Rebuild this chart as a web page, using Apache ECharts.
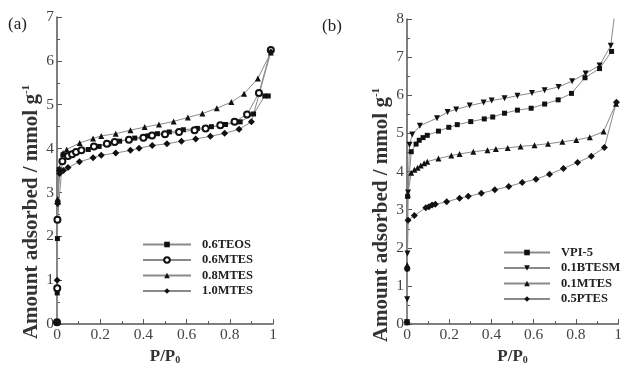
<!DOCTYPE html>
<html>
<head>
<meta charset="utf-8">
<script src="https://cdn.jsdelivr.net/npm/echarts@6/dist/echarts.min.js"></script>
<style>
  html, body { margin: 0; padding: 0; background: #fff; }
  #chart { width: 625px; height: 370px; }
</style>
</head>
<body>
<div id="chart"></div>
<script>
// panel (a): [P/P0, mmol/g]
const teos06 = [[0, 0.04], [0.001, 0.71], [0.002, 1.95], [0.004, 2.78], [0.01, 3.52], [0.028, 3.86],
  [0.145, 3.98], [0.195, 4.05], [0.24, 4.11], [0.29, 4.17], [0.36, 4.24], [0.42, 4.29], [0.465, 4.34],
  [0.52, 4.38], [0.585, 4.43], [0.65, 4.46], [0.715, 4.5], [0.78, 4.55], [0.848, 4.61], [0.91, 4.79],
  [0.962, 5.2], [0.978, 5.2]]
const mtes06 = [[0, 0.04], [0.001, 0.82], [0.002, 2.38], [0.025, 3.71], [0.051, 3.83], [0.07, 3.87],
  [0.088, 3.92], [0.113, 3.96], [0.171, 4.05], [0.231, 4.11], [0.267, 4.15], [0.333, 4.2], [0.4, 4.25],
  [0.44, 4.3], [0.5, 4.33], [0.565, 4.38], [0.637, 4.42], [0.688, 4.46], [0.756, 4.53], [0.822, 4.61],
  [0.88, 4.78], [0.935, 5.27], [0.99, 6.25]]
const mtes08 = [[0, 0.04], [0.003, 2.85], [0.01, 3.55], [0.028, 3.9], [0.045, 3.98], [0.105, 4.13],
  [0.167, 4.23], [0.205, 4.29], [0.272, 4.34], [0.34, 4.42], [0.406, 4.49], [0.472, 4.55], [0.54, 4.62],
  [0.606, 4.71], [0.673, 4.8], [0.74, 4.92], [0.807, 5.06], [0.866, 5.25], [0.93, 5.6], [0.99, 6.19]]
const mtes10 = [[0, 0.04], [0.001, 1.0], [0.003, 2.75], [0.012, 3.43], [0.03, 3.5], [0.051, 3.57],
  [0.104, 3.7], [0.167, 3.79], [0.205, 3.85], [0.272, 3.9], [0.34, 3.96], [0.38, 4.01], [0.441, 4.07],
  [0.509, 4.11], [0.576, 4.17], [0.642, 4.22], [0.71, 4.28], [0.776, 4.35], [0.843, 4.44], [0.9, 4.61],
  [0.99, 6.2]]

// panel (b)
const vpi5 = [[0, 0.05], [0.001, 1.45], [0.003, 3.35], [0.02, 4.52], [0.043, 4.72], [0.058, 4.82],
  [0.076, 4.89], [0.096, 4.95], [0.149, 5.06], [0.198, 5.16], [0.238, 5.23], [0.302, 5.31], [0.366, 5.38],
  [0.406, 5.43], [0.462, 5.53], [0.523, 5.61], [0.588, 5.66], [0.652, 5.77], [0.716, 5.88], [0.779, 6.05],
  [0.843, 6.46], [0.912, 6.7], [0.969, 7.15]]
const btesm01 = [[0, 0.05], [0.001, 0.65], [0.002, 1.85], [0.005, 3.45], [0.012, 4.7], [0.025, 4.97],
  [0.061, 5.2], [0.142, 5.4], [0.192, 5.56], [0.233, 5.63], [0.297, 5.73], [0.363, 5.81], [0.401, 5.86],
  [0.462, 5.92], [0.523, 5.99], [0.592, 6.06], [0.652, 6.13], [0.718, 6.22], [0.782, 6.37], [0.846, 6.57],
  [0.912, 6.78], [0.965, 7.3], [0.985, 8.2]]
const mtes01 = [[0, 0.05], [0.001, 1.55], [0.004, 3.4], [0.02, 3.97], [0.035, 4.05], [0.05, 4.1],
  [0.065, 4.16], [0.081, 4.22], [0.096, 4.26], [0.149, 4.34], [0.21, 4.42], [0.249, 4.46], [0.314, 4.52],
  [0.381, 4.56], [0.421, 4.59], [0.477, 4.62], [0.538, 4.66], [0.604, 4.69], [0.668, 4.73], [0.736, 4.78],
  [0.802, 4.83], [0.866, 4.9], [0.931, 5.05], [0.99, 5.78]]
const ptes05 = [[0, 0.05], [0.001, 1.45], [0.005, 2.72], [0.035, 2.85], [0.089, 3.05], [0.104, 3.08],
  [0.119, 3.12], [0.134, 3.14], [0.188, 3.21], [0.249, 3.3], [0.29, 3.35], [0.352, 3.43], [0.416, 3.52],
  [0.482, 3.61], [0.546, 3.71], [0.611, 3.8], [0.675, 3.93], [0.741, 4.08], [0.808, 4.24], [0.873, 4.4],
  [0.935, 4.63], [0.992, 5.82]]

const namesA = ['0.6TEOS', '0.6MTES', '0.8MTES', '1.0MTES']
const namesB = ['VPI-5', '0.1BTESM', '0.1MTES', '0.5PTES']

const SERIF = '"Liberation Serif", "Times New Roman", serif'
const AXIS_COLOR = '#555'

const xAxisFor = (gridIndex) => ({
  type: 'value',
  gridIndex,
  min: 0,
  max: 1,
  interval: 0.2,
  axisLine: { lineStyle: { color: AXIS_COLOR, width: 1.5 } },
  axisTick: { inside: true, length: 5, lineStyle: { color: AXIS_COLOR } },
  minorTick: { show: true, splitNumber: 2, length: 3, lineStyle: { color: AXIS_COLOR } },
  splitLine: { show: false },
  axisLabel: {
    color: '#444', fontFamily: SERIF, fontSize: 15.5, margin: 3,
    formatter: (v) => String(+v.toFixed(1)),
  },
  name: '{b|P/P}{s|0}',
  nameLocation: 'middle',
  nameGap: 21,
  nameTextStyle: {
    rich: {
      b: { fontFamily: SERIF, fontWeight: 'bold', fontSize: 17, color: '#333' },
      s: { fontFamily: SERIF, fontWeight: 'bold', fontSize: 10, color: '#333', verticalAlign: 'bottom' },
    },
  },
})

const yAxisFor = (gridIndex, max) => ({
  type: 'value',
  gridIndex,
  min: 0,
  max,
  interval: 1,
  axisLine: { show: true, lineStyle: { color: AXIS_COLOR, width: 1.5 } },
  axisTick: { show: true, inside: true, length: 5, lineStyle: { color: AXIS_COLOR } },
  minorTick: { show: true, splitNumber: 2, length: 3, lineStyle: { color: AXIS_COLOR } },
  splitLine: { show: false },
  axisLabel: { color: '#444', fontFamily: SERIF, fontSize: 15.5, margin: 3 },
})

const makeSeries = (name, data, axisIndex, symbol, size, rotate) => ({
  name,
  type: 'line',
  data,
  xAxisIndex: axisIndex,
  yAxisIndex: axisIndex,
  symbol,
  symbolSize: size,
  symbolRotate: rotate || 0,
  showAllSymbol: true,
  itemStyle: { color: '#111', borderColor: '#111', borderWidth: symbol === 'emptyCircle' ? 1 : 0 },
  lineStyle: { color: '#8a8a8a', width: 1 },
  emphasis: { disabled: true },
  z: 3,
})

const legendFor = (names, left, top, width) => ({
  data: names,
  orient: 'vertical',
  left,
  top,
  itemWidth: width,
  itemHeight: 7,
  itemGap: 2.5,
  padding: 0,
  selectedMode: false,
  textStyle: {
    fontFamily: SERIF, fontWeight: 'bold', fontSize: 12.5, color: '#222',
    lineHeight: 13, padding: [0, 0, 0, 6],
  },
})

const yTitle = (x, y) => ({
  type: 'text',
  x,
  y,
  rotation: Math.PI / 2,
  style: {
    text: '{t|Amount adsorbed / mmol g}{s|-1}',
    align: 'center',
    verticalAlign: 'middle',
    rich: {
      t: { fontFamily: SERIF, fontWeight: 'bold', fontSize: 21, fill: '#333', lineHeight: 23 },
      s: { fontFamily: SERIF, fontWeight: 'bold', fontSize: 11, fill: '#333', verticalAlign: 'top' },
    },
  },
})

const chart = echarts.init(document.getElementById('chart'), null, { renderer: 'canvas' })

chart.setOption({
  animation: false,
  backgroundColor: '#fff',
  grid: [
    { left: 57, top: 17, width: 216, height: 311 },
    { left: 407, top: 19, width: 219, height: 309 },
  ],
  xAxis: [xAxisFor(0), xAxisFor(1)],
  yAxis: [yAxisFor(0, 7), yAxisFor(1, 8)],
  legend: [
    legendFor(namesA, 142, 238, 48),
    legendFor(namesB, 503, 246, 46),
  ],
  graphic: [
    { type: 'text', x: 8, y: 16, style: { text: '(a)', fontFamily: SERIF, fontSize: 17, fill: '#222' } },
    { type: 'text', x: 322, y: 18, style: { text: '(b)', fontFamily: SERIF, fontSize: 17, fill: '#222' } },
    yTitle(32, 212),
    yTitle(382, 215),
  ],
  series: [
    makeSeries(namesA[0], teos06, 0, 'rect', 5),
    makeSeries(namesA[1], mtes06, 0, 'emptyCircle', 6),
    makeSeries(namesA[2], mtes08, 0, 'triangle', 6),
    makeSeries(namesA[3], mtes10, 0, 'diamond', 7),
    makeSeries(namesB[0], vpi5, 1, 'rect', 5),
    makeSeries(namesB[1], btesm01, 1, 'triangle', 6, 180),
    makeSeries(namesB[2], mtes01, 1, 'triangle', 6),
    makeSeries(namesB[3], ptes05, 1, 'diamond', 7),
  ],
})
</script>
</body>
</html>
